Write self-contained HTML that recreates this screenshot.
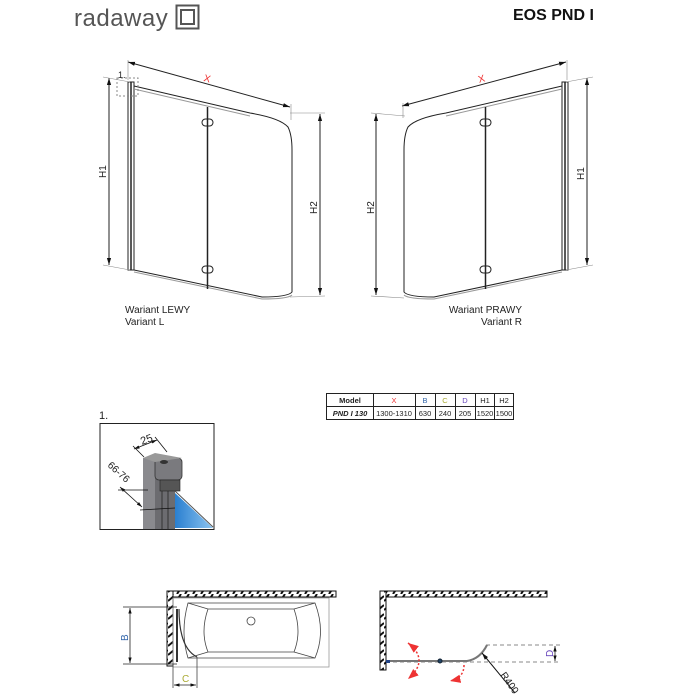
<!DOCTYPE html>
<html><head><meta charset="utf-8"><style>
html,body{margin:0;padding:0;background:#fff;}
svg{display:block;font-family:"Liberation Sans",sans-serif;}
</style></head><body>
<svg width="700" height="700" viewBox="0 0 700 700" xmlns="http://www.w3.org/2000/svg">
<defs>
<marker id="a" viewBox="0 0 10 10" refX="10" refY="5" markerWidth="7" markerHeight="7" orient="auto-start-reverse"><path d="M0,2 L10,5 L0,8 z" fill="#111"/></marker>
<marker id="r" viewBox="0 0 10 10" refX="10" refY="5" markerWidth="7" markerHeight="7" orient="auto-start-reverse"><path d="M0,1 L10,5 L0,9 z" fill="#e33"/></marker>
<pattern id="h" width="8" height="6" patternUnits="userSpaceOnUse"><rect width="8" height="6" fill="#fff"/><path d="M1,6 L5,0" stroke="#111" stroke-width="2"/></pattern>
<pattern id="hv" width="6" height="9" patternUnits="userSpaceOnUse"><rect width="6" height="9" fill="#fff"/><path d="M0,7 L6,2" stroke="#111" stroke-width="2"/></pattern>
<linearGradient id="g" x1="0" y1="0" x2="1" y2="0"><stop offset="0" stop-color="#2a7fd0"/><stop offset="1" stop-color="#8cc4f0"/></linearGradient>
</defs>

<!-- logo -->
<text x="74" y="26" font-size="24" fill="#555" letter-spacing="0.5" font-weight="300">radaway</text>
<rect x="176.5" y="5.5" width="22" height="23" fill="none" stroke="#555" stroke-width="2"/>
<rect x="181" y="10" width="13" height="14" fill="none" stroke="#555" stroke-width="2"/>
<text x="513" y="20" font-size="16" font-weight="bold" fill="#111">EOS PND I</text>

<!-- LEFT VARIANT -->
<g stroke="#222" fill="none" stroke-width="1">
<rect x="128" y="82" width="6" height="188" stroke-width="1"/>
<line x1="131" y1="82" x2="131" y2="270" stroke-width="1.5"/>
<path d="M134,86 L250,113 Q280,118 288,127 Q292,135 292,150 L292,292 Q288,297 262,297 L134,270"/>
<path d="M134,89 L250,116" stroke="#999"/>
<path d="M134,272 L262,299 Q288,299 292,295" stroke="#999"/>
<line x1="207.5" y1="107" x2="207.5" y2="289" stroke-width="1.5"/>
<rect x="202" y="119" width="11" height="7" rx="3.5"/>
<rect x="202" y="266" width="11" height="7" rx="3.5"/>
<rect x="117" y="78" width="21" height="18" stroke="#888" stroke-dasharray="2,2"/>
<line x1="128" y1="62" x2="290" y2="107" marker-start="url(#a)" marker-end="url(#a)"/>
<line x1="128" y1="60" x2="128" y2="80" stroke="#888" stroke-width="0.6"/>
<line x1="291" y1="104" x2="291" y2="120" stroke="#888" stroke-width="0.6"/>
<line x1="109" y1="78" x2="109" y2="265" marker-start="url(#a)" marker-end="url(#a)"/>
<line x1="103" y1="77" x2="130" y2="82" stroke="#888" stroke-width="0.6"/>
<line x1="103" y1="265" x2="130" y2="270" stroke="#888" stroke-width="0.6"/>
<line x1="320" y1="114" x2="320" y2="295" marker-start="url(#a)" marker-end="url(#a)"/>
<line x1="290" y1="113" x2="325" y2="113" stroke="#888" stroke-width="0.6"/>
<line x1="290" y1="297" x2="325" y2="296" stroke="#888" stroke-width="0.6"/>
</g>
<text x="118" y="78" font-size="9" fill="#222">1.</text>
<text x="204" y="82" font-size="10" fill="#e33" transform="rotate(15 208 78)">X</text>
<text x="0" y="0" font-size="10" fill="#222" transform="translate(106,178) rotate(-90)">H1</text>
<text x="0" y="0" font-size="10" fill="#222" transform="translate(317,214) rotate(-90)">H2</text>
<text x="125" y="313" font-size="10" fill="#222">Wariant LEWY</text>
<text x="125" y="325" font-size="10" fill="#222">Variant L</text>

<!-- RIGHT VARIANT -->
<g stroke="#222" fill="none" stroke-width="1">
<rect x="562" y="82" width="6" height="188"/>
<line x1="565" y1="82" x2="565" y2="270" stroke-width="1.5"/>
<path d="M562,86 L446,113 Q416,118 408,127 Q404,135 404,150 L404,292 Q408,297 434,297 L562,270"/>
<path d="M562,89 L446,116" stroke="#999"/>
<path d="M562,272 L434,299 Q408,299 404,295" stroke="#999"/>
<line x1="485.5" y1="107" x2="485.5" y2="289" stroke-width="1.5"/>
<rect x="480" y="119" width="11" height="7" rx="3.5"/>
<rect x="480" y="266" width="11" height="7" rx="3.5"/>
<line x1="566" y1="62" x2="402" y2="106" marker-start="url(#a)" marker-end="url(#a)"/>
<line x1="567" y1="60" x2="567" y2="80" stroke="#888" stroke-width="0.6"/>
<line x1="403" y1="103" x2="403" y2="118" stroke="#888" stroke-width="0.6"/>
<line x1="587" y1="78" x2="587" y2="265" marker-start="url(#a)" marker-end="url(#a)"/>
<line x1="566" y1="82" x2="593" y2="77" stroke="#888" stroke-width="0.6"/>
<line x1="566" y1="270" x2="593" y2="265" stroke="#888" stroke-width="0.6"/>
<line x1="376" y1="114" x2="376" y2="295" marker-start="url(#a)" marker-end="url(#a)"/>
<line x1="371" y1="113" x2="405" y2="116" stroke="#888" stroke-width="0.6"/>
<line x1="371" y1="296" x2="404" y2="298" stroke="#888" stroke-width="0.6"/>
</g>
<text x="478" y="82" font-size="10" fill="#e33" transform="rotate(-15 482 78)">X</text>
<text x="0" y="0" font-size="10" fill="#222" transform="translate(584,180) rotate(-90)">H1</text>
<text x="0" y="0" font-size="10" fill="#222" transform="translate(374,214) rotate(-90)">H2</text>
<text x="522" y="313" font-size="10" fill="#222" text-anchor="end">Wariant PRAWY</text>
<text x="522" y="325" font-size="10" fill="#222" text-anchor="end">Variant R</text>

<!-- TABLE -->
<g stroke="#222" stroke-width="1" fill="none">
<rect x="326.5" y="393.5" width="187" height="26"/>
<line x1="326" y1="406.5" x2="514" y2="406.5"/>
<line x1="373.5" y1="393" x2="373.5" y2="420"/>
<line x1="415.5" y1="393" x2="415.5" y2="420"/>
<line x1="435.5" y1="393" x2="435.5" y2="420"/>
<line x1="455.5" y1="393" x2="455.5" y2="420"/>
<line x1="475.5" y1="393" x2="475.5" y2="420"/>
<line x1="494.5" y1="393" x2="494.5" y2="420"/>
</g>
<g font-size="7.5" text-anchor="middle" fill="#222">
<text x="350" y="403" font-weight="bold">Model</text>
<text x="394" y="403" fill="#e33">X</text>
<text x="425" y="403" fill="#36a">B</text>
<text x="445" y="403" fill="#aa3">C</text>
<text x="465" y="403" fill="#64b">D</text>
<text x="485" y="403">H1</text>
<text x="504" y="403">H2</text>
<text x="350" y="416" font-weight="bold" font-style="italic">PND I 130</text>
<text x="394" y="416">1300-1310</text>
<text x="425" y="416">630</text>
<text x="445" y="416">240</text>
<text x="465" y="416">205</text>
<text x="485" y="416">1520</text>
<text x="504" y="416">1500</text>
</g>

<!-- DETAIL 1 -->
<text x="99" y="419" font-size="11" fill="#222">1.</text>
<rect x="100" y="423.5" width="114" height="106" fill="#fff" stroke="#222"/>
<polygon points="175,493 213,528 175,528" fill="url(#g)"/>
<line x1="175" y1="491" x2="213" y2="527" stroke="#555"/>
<rect x="143" y="458" width="15" height="71" fill="#8a8a8e"/>
<rect x="155" y="462" width="20" height="67" fill="#6c6c70"/>
<line x1="162" y1="470" x2="162" y2="529" stroke="#333"/>
<line x1="168" y1="470" x2="168" y2="529" stroke="#333"/>
<rect x="155" y="458" width="27" height="22" rx="4" fill="#7a7a7e" stroke="#333" stroke-width="0.8"/>
<polygon points="143,458 155,453 182,458 155,462" fill="#999"/>
<ellipse cx="164" cy="462" rx="4" ry="2" fill="#333"/>
<rect x="160" y="480" width="20" height="11" fill="#555" stroke="#222" stroke-width="0.6"/>
<g stroke="#111" stroke-width="0.8" fill="none">
<line x1="134" y1="449" x2="157" y2="440" marker-start="url(#a)" marker-end="url(#a)"/>
<line x1="133" y1="446" x2="144" y2="457"/><line x1="155" y1="437" x2="167" y2="452"/>
<line x1="120" y1="487" x2="142" y2="507" marker-start="url(#a)" marker-end="url(#a)"/>
<line x1="118" y1="490" x2="148" y2="490"/><line x1="140" y1="510" x2="175" y2="508"/>
</g>
<text x="142" y="445" font-size="11" fill="#222" transform="rotate(-20 142 445)">25</text>
<text x="0" y="0" font-size="10" fill="#222" transform="translate(107,466) rotate(42)">66-76</text>

<!-- BOTTOM LEFT PLAN -->
<rect x="167" y="591" width="169" height="6" fill="url(#h)" stroke="#111"/>
<rect x="167" y="591" width="6" height="75" fill="url(#hv)" stroke="#111"/>
<g stroke="#444" fill="none" stroke-width="0.8">
<rect x="173" y="598" width="156" height="69" stroke="#999"/>
<path d="M188,603 L315,603 Q326,632 315,658 L188,658 Q180,632 188,603z"/>
<path d="M208,609 L294,609 Q302,632 294,652 L208,652 Q200,632 208,609z"/>
<line x1="188" y1="603" x2="208" y2="609"/><line x1="315" y1="603" x2="294" y2="609"/>
<line x1="188" y1="658" x2="208" y2="652"/><line x1="315" y1="658" x2="294" y2="652"/>
<circle cx="251" cy="621" r="4"/>
<path d="M177,609 L177,662" stroke="#333" stroke-width="2"/>
<path d="M179,609 Q179,648 197,657" stroke="#333" stroke-width="1.2"/>
<line x1="197" y1="657" x2="197" y2="688"/>
<line x1="173" y1="664" x2="173" y2="688"/>
<line x1="123" y1="607" x2="177" y2="607" stroke="#222"/>
<line x1="123" y1="664" x2="177" y2="664" stroke="#222"/>
<line x1="130" y1="608" x2="130" y2="663" stroke="#222" marker-start="url(#a)" marker-end="url(#a)"/>
<line x1="174" y1="685" x2="196" y2="685" stroke="#222" marker-start="url(#a)" marker-end="url(#a)"/>
</g>
<text x="0" y="0" font-size="10" fill="#36a" transform="translate(128,641) rotate(-90)">B</text>
<text x="182" y="682" font-size="10" fill="#aa3">C</text>

<!-- BOTTOM RIGHT PLAN -->
<rect x="380" y="591" width="167" height="6" fill="url(#h)" stroke="#111"/>
<rect x="380" y="591" width="6" height="79" fill="url(#hv)" stroke="#111"/>
<g fill="none">
<line x1="386" y1="662" x2="560" y2="662" stroke="#888" stroke-dasharray="4,3"/>
<line x1="486" y1="645" x2="560" y2="645" stroke="#888" stroke-dasharray="4,3"/>
<path d="M386,661 L467,661 Q480,659 487,645" stroke="#777" stroke-width="2"/>
<circle cx="440" cy="661" r="2" fill="#246" stroke="#123"/>
<rect x="386" y="660" width="4" height="3" fill="#248"/>
<line x1="555" y1="646" x2="555" y2="661" stroke="#222" stroke-width="0.8" marker-start="url(#a)" marker-end="url(#a)"/>
<line x1="515" y1="693" x2="482" y2="653" stroke="#111" stroke-width="1" marker-end="url(#a)"/>
<path d="M408,643 Q430,660 408,679" stroke="#e33" stroke-width="1.5" stroke-dasharray="2,2" marker-start="url(#r)" marker-end="url(#r)"/>
<path d="M464,665 Q464,678 450,681" stroke="#e33" stroke-width="1.5" stroke-dasharray="2,2" marker-end="url(#r)"/>
</g>
<text x="0" y="0" font-size="10" fill="#64b" transform="translate(553,657) rotate(-90)">D</text>
<text x="0" y="0" font-size="10" fill="#222" transform="translate(500,675) rotate(55)">R400</text>
</svg>
</body></html>
